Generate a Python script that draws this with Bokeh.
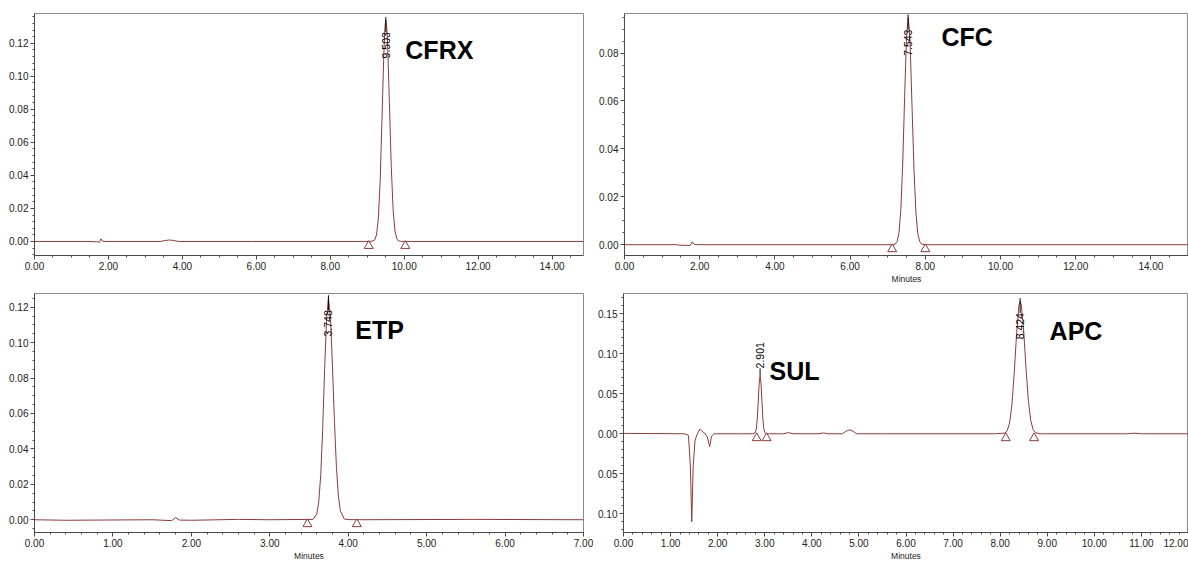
import math
from bokeh.plotting import figure
from bokeh.layouts import row, column
from bokeh.models import (SingleIntervalTicker, NumeralTickFormatter, CustomJSTickFormatter,
                          Range1d)
from bokeh.core.properties import value
from bokeh.embed import file_html
from bokeh.resources import INLINE

# ---------------- data ----------------
# Panel A: CFRX
cfrx_t = [0.00, 1.40, 1.70, 1.76, 1.80, 1.84, 1.90, 2.20, 3.40, 3.55, 3.65, 3.75, 3.90, 5.90, 8.90,
          9.10, 9.20, 9.25, 9.30, 9.35, 9.40, 9.45, 9.48, 9.503, 9.53, 9.55, 9.60, 9.65, 9.70, 9.75,
          9.80, 9.85, 9.90, 10.00, 10.20, 14.85]
cfrx_y = [0.0000, 0.0000, -0.0002, -0.0005, 0.0016, 0.0002, 0.0000, 0.0000, 0.0000, 0.0006, 0.0009,
          0.0006, 0.0000, 0.0000, 0.0000,
          0.0000, 0.0008, 0.0039, 0.0137, 0.0366, 0.0744, 0.1147, 0.1301, 0.1340, 0.1292, 0.1200,
          0.0837, 0.0455, 0.0193, 0.0063, 0.0016, 0.0003, 0.0001, 0.0000, 0.0000, 0.0000]
cfrx_rt = [9.503]
cfrx_h = [0.1340]
cfrx_marks = [9.04, 10.03]

# Panel B: CFC
cfc_t = [0.00, 1.40, 1.45, 1.75, 1.80, 1.85, 1.95, 7.10, 7.20, 7.25, 7.30, 7.35, 7.40, 7.45, 7.50,
         7.543, 7.58, 7.60, 7.65, 7.70, 7.75, 7.80, 7.85, 7.90, 8.00, 15.00]
cfc_y = [0.0000, 0.0000, -0.0002, -0.0003, 0.0012, 0.0002, 0.0000, 0.0000, 0.0003, 0.0013, 0.0050,
         0.0147, 0.0341, 0.0615, 0.0865, 0.0948, 0.0891, 0.0818, 0.0564, 0.0310, 0.0136, 0.0047,
         0.0013, 0.0003, 0.0000, 0.0000]
cfc_rt = [7.543]
cfc_h = [0.0948]
cfc_marks = [7.12, 8.00]

# Panel C: ETP
etp_t = [0.00, 0.40, 1.50, 1.75, 1.80, 1.85, 2.00, 2.60, 3.00, 3.55, 3.60, 3.625, 3.65, 3.675,
         3.70, 3.725, 3.748, 3.775, 3.80, 3.825, 3.85, 3.875, 3.90, 3.95, 4.00, 4.10, 5.60, 7.00]
etp_y = [0.0000, -0.0003, 0.0000, -0.0005, 0.0012, -0.0002, -0.0003, 0.0002, 0.0000, 0.0002,
         0.0033, 0.0103, 0.0256, 0.0518, 0.0854, 0.1145, 0.1250, 0.1130, 0.0858, 0.0549, 0.0295,
         0.0133, 0.0050, 0.0004, 0.0001, 0.0000, 0.0002, 0.0000]
etp_rt = [3.748]
etp_h = [0.1250]
etp_marks = [3.48, 4.11]

# Panel D: SUL + APC
mix_t = [0.00, 1.30, 1.38, 1.42, 1.45, 1.48, 1.52, 1.57, 1.62, 1.67, 1.72, 1.78, 1.83, 1.87, 1.92,
         2.40, 2.74, 2.80, 2.82, 2.84, 2.86, 2.88, 2.901, 2.92, 2.94, 2.96, 2.98, 3.00, 3.03, 3.10,
         3.40, 3.50, 3.60, 4.15, 4.25, 4.35, 4.65, 4.72, 4.80, 4.88, 4.95, 5.50, 7.90,
         8.10, 8.15, 8.20, 8.25, 8.30, 8.35, 8.40, 8.424, 8.45, 8.50, 8.55, 8.60, 8.65, 8.70, 8.75,
         8.85, 10.70, 10.85, 11.00, 12.00]
mix_y = [0.0005, 0.0000, -0.0020, -0.0400, -0.1100, -0.0400, -0.0080, 0.0000, 0.0060, 0.0030,
         0.0010, -0.0040, -0.0160, -0.0030, 0.0000,
         0.0000, 0.0000, 0.0014, 0.0058, 0.0174, 0.0382, 0.0616, 0.0730, 0.0635, 0.0406, 0.0191,
         0.0066, 0.0017, 0.0002, 0.0000,
         0.0000, 0.0015, 0.0000, 0.0000, 0.0010, 0.0000, 0.0000, 0.0030, 0.0050, 0.0030, 0.0000,
         0.0000, 0.0000,
         0.0009, 0.0039, 0.0135, 0.0365, 0.0769, 0.1262, 0.1613, 0.1660, 0.1610, 0.1278, 0.0808,
         0.0407, 0.0164, 0.0052, 0.0013, 0.0000, 0.0000, 0.0008, 0.0000, 0.0000]
mix_rt = [2.901, 8.424]
mix_h = [0.0730, 0.1660]
mix_marks = [2.83, 3.04, 8.12, 8.72]

# ---------------- styling ----------------
TRACE = "#8c3b3b"
FONT = "Liberation Sans"


def make_panel(width, height, xr, yr, borders, x_int, x_minor, y_int, y_minor, xlabel, abs_y=False):
    left, right, top, bottom = borders
    p = figure(width=width, height=height, x_range=Range1d(*xr), y_range=Range1d(*yr),
               output_backend="svg", toolbar_location=None,
               min_border_left=left, min_border_right=right,
               min_border_top=top, min_border_bottom=bottom)
    p.grid.visible = False
    p.outline_line_color = "#8a8a8a"
    p.outline_line_width = 1
    p.xaxis.ticker = SingleIntervalTicker(interval=x_int, num_minor_ticks=x_minor)
    p.yaxis.ticker = SingleIntervalTicker(interval=y_int, num_minor_ticks=y_minor)
    p.xaxis.formatter = NumeralTickFormatter(format="0.00")
    if abs_y:
        p.yaxis.formatter = CustomJSTickFormatter(code="return Math.abs(tick).toFixed(2);")
    else:
        p.yaxis.formatter = NumeralTickFormatter(format="0.00")
    for ax in (p.xaxis, p.yaxis):
        ax.axis_line_color = "#4a4a4a"
        ax.major_tick_line_color = "#4a4a4a"
        ax.minor_tick_line_color = "#4a4a4a"
        ax.major_tick_out = 4
        ax.major_tick_in = 0
        ax.minor_tick_out = 2
        ax.minor_tick_in = 0
        ax.major_label_text_font = FONT
        ax.major_label_text_font_size = "10px"
        ax.major_label_text_color = "#222222"
        ax.major_label_standoff = 2
    if xlabel:
        p.xaxis.axis_label = xlabel
        p.xaxis.axis_label_text_font = FONT
        p.xaxis.axis_label_text_font_size = "8.5px"
        p.xaxis.axis_label_text_font_style = "normal"
        p.xaxis.axis_label_text_color = "#222222"
        p.xaxis.axis_label_standoff = 1
    return p


def draw(p, t, y, rts, hts, marks, yr, above=None):
    p.line(t, y, line_color=TRACE, line_width=1)
    tri_y = -0.018 * (yr[1] - yr[0])
    p.scatter(marks, [tri_y] * len(marks), marker="triangle", size=9,
              fill_color="white", line_color=TRACE, line_width=1)
    for rt, h in zip(rts, hts):
        lab = ["%.3f" % rt]
        if above is not None and rt in above:
            p.text([rt], [h], text=lab, angle=math.pi / 2, text_align="left",
                   text_baseline="middle", y_offset=-7, text_font=value(FONT),
                   text_font_size="10.5px", text_color="black")
            p.ray([rt], [h], length=7, length_units="screen", angle=math.pi / 2,
                  line_color="black", line_width=1)
        else:
            p.text([rt], [h], text=lab, angle=math.pi / 2, text_align="right",
                   text_baseline="middle", y_offset=12, text_font=value(FONT),
                   text_font_size="10.5px", text_color="black")
            p.ray([rt], [h], length=12, length_units="screen", angle=-math.pi / 2,
                  line_color="black", line_width=1)
            p.ray([rt], [h], length=3, length_units="screen", angle=math.pi / 2,
                  line_color="black", line_width=1)


def name(p, x, y, txt):
    p.text([x], [y], text=[txt], text_font=value(FONT), text_font_style="bold",
           text_font_size="25px", text_baseline="middle", text_align="left", text_color="black")


yr1 = (-0.0085, 0.138)
p1 = make_panel(590, 286, (0, 14.85), yr1, (34, 7, 13, 31), 2, 4, 0.02, 5, None)
draw(p1, cfrx_t, cfrx_y, cfrx_rt, cfrx_h, cfrx_marks, yr1)
name(p1, 10.03, 0.116, "CFRX")

yr2 = (-0.0045, 0.0965)
p2 = make_panel(598, 286, (0, 15), yr2, (34, 0, 11, 29), 2, 4, 0.02, 4, "Minutes")
draw(p2, cfc_t, cfc_y, cfc_rt, cfc_h, cfc_marks, yr2)
name(p2, 8.43, 0.0866, "CFC")

yr3 = (-0.0072, 0.1277)
p3 = make_panel(594, 277, (0, 7), yr3, (34, 11, 7, 26), 1, 5, 0.02, 4, "Minutes")
draw(p3, etp_t, etp_y, etp_rt, etp_h, etp_marks, yr3)
name(p3, 4.09, 0.107, "ETP")

yr4 = (-0.1235, 0.1755)
p4 = make_panel(594, 277, (0, 12), yr4, (29, 0, 4, 26), 1, 5, 0.05, 5, "Minutes", abs_y=True)
draw(p4, mix_t, mix_y, mix_rt, mix_h, mix_marks, yr4, above=[2.901])
name(p4, 3.10, 0.079, "SUL")
name(p4, 9.05, 0.128, "APC")

layout = column(row(p1, p2, spacing=0), row(p3, p4, spacing=0), spacing=0)
open("out.html", "w").write(file_html(layout, INLINE))
